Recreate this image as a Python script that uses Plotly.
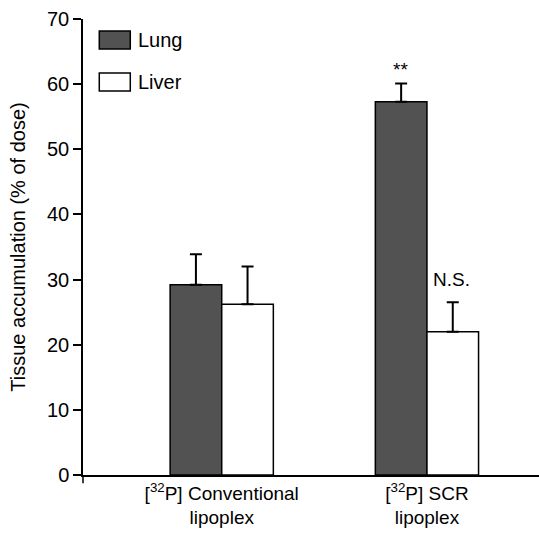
import plotly.graph_objects as go

# Tissue distribution data (% of injected dose)
groups = ["[<sup>32</sup>P] Conventional<br>lipoplex", "[<sup>32</sup>P] SCR<br>lipoplex"]
lung_mean = [29.2, 57.3]
lung_err = [4.7, 2.8]
liver_mean = [26.2, 22.0]
liver_err = [5.8, 4.5]
y_ticks = [0, 10, 20, 30, 40, 50, 60, 70]

FONT = "Liberation Sans, Arial, Helvetica, sans-serif"
LUNG_FILL = "#525252"

fig = go.Figure()
fig.add_trace(go.Bar(
    name="Lung", x=groups, y=lung_mean,
    marker=dict(color=LUNG_FILL, line=dict(color="black", width=1.5)),
    error_y=dict(type="data", symmetric=False, array=lung_err,
                 arrayminus=[0, 0], color="black", thickness=2, width=6),
))
fig.add_trace(go.Bar(
    name="Liver", x=groups, y=liver_mean,
    marker=dict(color="white", line=dict(color="black", width=1.5)),
    error_y=dict(type="data", symmetric=False, array=liver_err,
                 arrayminus=[0, 0], color="black", thickness=2, width=6),
))

# Significance markers above the SCR bars
fig.add_annotation(x=groups[1], y=lung_mean[1] + lung_err[1], xshift=-26,
                   yshift=14, text="**", showarrow=False,
                   font=dict(family=FONT, size=19, color="black"))
fig.add_annotation(x=groups[1], y=liver_mean[1] + liver_err[1], xshift=25,
                   yshift=23, text="N.S.", showarrow=False,
                   font=dict(family=FONT, size=19, color="black"))

# Hand-drawn legend: swatches and labels in the upper-left corner
legend_items = [("Lung", LUNG_FILL, 0.9737, 0.934), ("Liver", "white", 0.8816, 0.8421)]
for label, fill, top, bot in legend_items:
    fig.add_shape(type="rect", xref="paper", yref="paper",
                  x0=0.0357, x1=0.1037, y0=bot, y1=top,
                  fillcolor=fill, line=dict(color="black", width=1.5))
    fig.add_annotation(xref="paper", yref="paper", x=0.117, y=(top + bot) / 2,
                       xanchor="left", yanchor="middle", text=label,
                       showarrow=False,
                       font=dict(family=FONT, size=20, color="black"))

# Short downward extension of the y axis below the origin
fig.add_shape(type="line", xref="paper", yref="paper", x0=0, x1=0,
              y0=0, y1=-0.018, line=dict(color="black", width=1.5))

fig.update_layout(
    width=539, height=534,
    margin=dict(l=83, r=0, t=19, b=59),
    paper_bgcolor="white", plot_bgcolor="white",
    barmode="group", bargap=0.497, bargroupgap=0,
    showlegend=False,
    font=dict(family=FONT, size=19, color="black"),
)
fig.update_xaxes(
    type="category", range=[-0.676, 1.546],
    showline=True, linecolor="black", linewidth=1.5,
    ticks="", showgrid=False, zeroline=False,
    tickfont=dict(family=FONT, size=19, color="black"),
)
fig.update_yaxes(
    range=[0, 70], tickvals=y_ticks,
    showline=True, linecolor="black", linewidth=1.5,
    ticks="outside", ticklen=8, tickwidth=1.5, tickcolor="black",
    showgrid=False, zeroline=False,
    tickfont=dict(family=FONT, size=20, color="black"),
    title=dict(text="Tissue accumulation (% of dose)", standoff=16,
               font=dict(family=FONT, size=20, color="black")),
)

fig.write_html("out.html")
